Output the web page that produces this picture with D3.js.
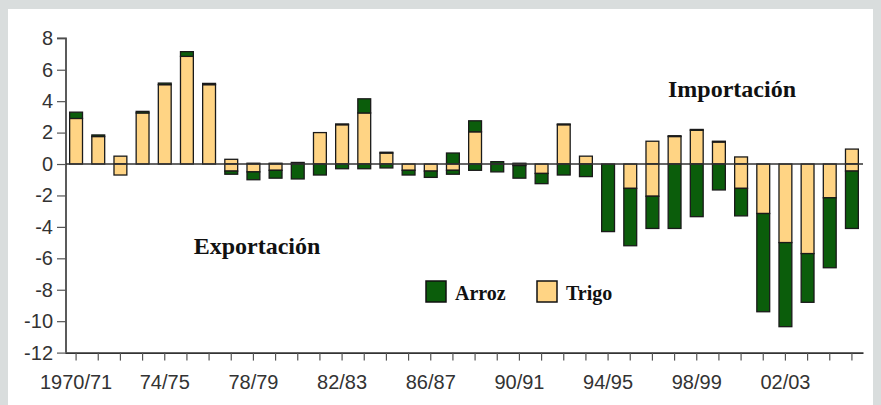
<!DOCTYPE html>
<html>
<head>
<meta charset="utf-8">
<script src="https://cdn.jsdelivr.net/npm/d3@7"></script>
<style>
  html, body { margin: 0; padding: 0; background: #d9dddd; }
</style>
</head>
<body>
<script>
// campaigns (one bar each)
const years = ['1970/71', '71/72', '72/73', '73/74', '74/75', '75/76', '76/77', '77/78', '78/79', '79/80',
  '80/81', '81/82', '82/83', '83/84', '84/85', '85/86', '86/87', '87/88', '88/89', '89/90',
  '90/91', '91/92', '92/93', '93/94', '94/95', '95/96', '96/97', '97/98', '98/99', '99/00',
  '00/01', '01/02', '02/03', '03/04', '04/05', '05/06'];

// imports (positive) and exports (negative), millions of tonnes
const trigoImp = [2.9, 1.75, 0.5, 3.25, 5.05, 6.85, 5.05, 0.3, 0, 0,
  0, 2.0, 2.5, 3.25, 0.7, 0, 0, 0, 2.05, 0,
  0, 0, 2.5, 0.5, 0, 0, 1.45, 1.75, 2.15, 1.4,
  0.45, 0, 0, 0, 0, 0.95];
const arrozImp = [0.4, 0.1, 0, 0.1, 0.1, 0.3, 0.08, 0, 0.05, 0.05,
  0.1, 0, 0.05, 0.9, 0.05, 0, 0, 0.7, 0.7, 0.15,
  0.05, 0, 0.05, 0, 0, 0, 0, 0.05, 0.05, 0.05,
  0, 0, 0, 0, 0, 0];
const trigoExp = [0, 0, -0.7, 0, 0, 0, 0, -0.45, -0.5, -0.4,
  0, 0, 0, 0, 0, -0.4, -0.45, -0.4, 0, 0,
  -0.1, -0.6, 0, 0, 0, -1.55, -2.05, 0, 0, 0,
  -1.55, -3.15, -5.0, -5.7, -2.15, -0.45];
const arrozExp = [0, 0, 0, 0, 0, 0, 0, -0.2, -0.5, -0.5,
  -0.95, -0.7, -0.3, -0.3, -0.25, -0.3, -0.4, -0.25, -0.4, -0.5,
  -0.8, -0.65, -0.7, -0.8, -4.3, -3.65, -2.05, -4.1, -3.35, -1.65,
  -1.75, -6.25, -5.35, -3.1, -4.45, -3.65];

const yTicks = [-12, -10, -8, -6, -4, -2, 0, 2, 4, 6, 8];
const series = ['Arroz', 'Trigo'];

const W = 881, H = 405;
const colors = { Arroz: '#0b5d0b', Trigo: '#ffd484' };

const svg = d3.select('body').append('svg')
  .attr('width', W)
  .attr('height', H)
  .style('display', 'block');

// grey frame with white panel
svg.append('rect').attr('width', W).attr('height', H).attr('fill', '#d9dddd');
svg.append('rect').attr('x', 8).attr('y', 9).attr('width', 865).attr('height', 396).attr('fill', '#fff');

const x = d3.scaleBand()
  .domain(years)
  .range([65, 863])
  .paddingInner(0.42)
  .paddingOuter(0.21);

const y = d3.scaleLinear()
  .domain([-12, 8])
  .range([352.6, 38.3]);

// build stacked segments: positives stack up from 0, negatives down from 0
const segs = [];
years.forEach((yr, i) => {
  let top = 0;
  [['Trigo', trigoImp[i]], ['Arroz', arrozImp[i]]].forEach(([k, v]) => {
    if (v > 0) { segs.push({ yr, k, y0: top, y1: top + v }); top += v; }
  });
  let bot = 0;
  [['Trigo', trigoExp[i]], ['Arroz', arrozExp[i]]].forEach(([k, v]) => {
    if (v < 0) { segs.push({ yr, k, y0: bot + v, y1: bot }); bot += v; }
  });
});

svg.append('g')
  .selectAll('rect')
  .data(segs)
  .enter()
  .append('rect')
  .attr('x', d => x(d.yr))
  .attr('width', x.bandwidth())
  .attr('y', d => y(d.y1))
  .attr('height', d => y(d.y0) - y(d.y1))
  .attr('fill', d => colors[d.k])
  .attr('stroke', '#1a1a1a')
  .attr('stroke-width', 1.3);

// zero line over the bars
svg.append('line')
  .attr('x1', 66).attr('x2', 863)
  .attr('y1', y(0)).attr('y2', y(0))
  .attr('stroke', '#333')
  .attr('stroke-width', 1.3);

// axes
const yAxis = svg.append('g')
  .attr('transform', 'translate(66,0)')
  .call(d3.axisLeft(y).tickValues(yTicks).tickSize(9).tickPadding(4).tickFormat(d => String(d)));

const xAxis = svg.append('g')
  .attr('transform', `translate(0,${y(-12)})`)
  .call(d3.axisBottom(x).tickSize(8).tickPadding(14).tickSizeOuter(0)
    .tickFormat((d, i) => i % 4 === 0 ? d : ''));

[yAxis, xAxis].forEach(g => {
  g.select('.domain').attr('stroke', '#333').attr('stroke-width', 1.6);
  g.selectAll('.tick line').attr('stroke', '#555').attr('stroke-width', 1.2);
  g.selectAll('.tick text')
    .attr('fill', '#333')
    .attr('font-family', '"Liberation Sans", Arial, sans-serif')
    .attr('font-size', '20px');
});
yAxis.select('.domain').attr('d', `M-9,${y(8)}H0V${y(-12)}`);

// annotations
const serif = '"Liberation Serif", "Times New Roman", serif';
svg.append('text')
  .attr('x', 732).attr('y', 97)
  .attr('text-anchor', 'middle')
  .attr('font-family', serif).attr('font-weight', 'bold').attr('font-size', '24px')
  .attr('fill', '#111')
  .text('Importación');
svg.append('text')
  .attr('x', 257).attr('y', 254)
  .attr('text-anchor', 'middle')
  .attr('font-family', serif).attr('font-weight', 'bold').attr('font-size', '24px')
  .attr('fill', '#111')
  .text('Exportación');

// legend
const legend = svg.append('g');
const legX = [426, 537];
series.forEach((s, i) => {
  legend.append('rect')
    .attr('x', legX[i]).attr('y', 281)
    .attr('width', 20).attr('height', 21)
    .attr('fill', colors[s])
    .attr('stroke', '#111').attr('stroke-width', 1.5);
  legend.append('text')
    .attr('x', legX[i] + 29).attr('y', 300)
    .attr('font-family', serif).attr('font-weight', 'bold').attr('font-size', '20px')
    .attr('fill', '#111')
    .text(s);
});
</script>
</body>
</html>
